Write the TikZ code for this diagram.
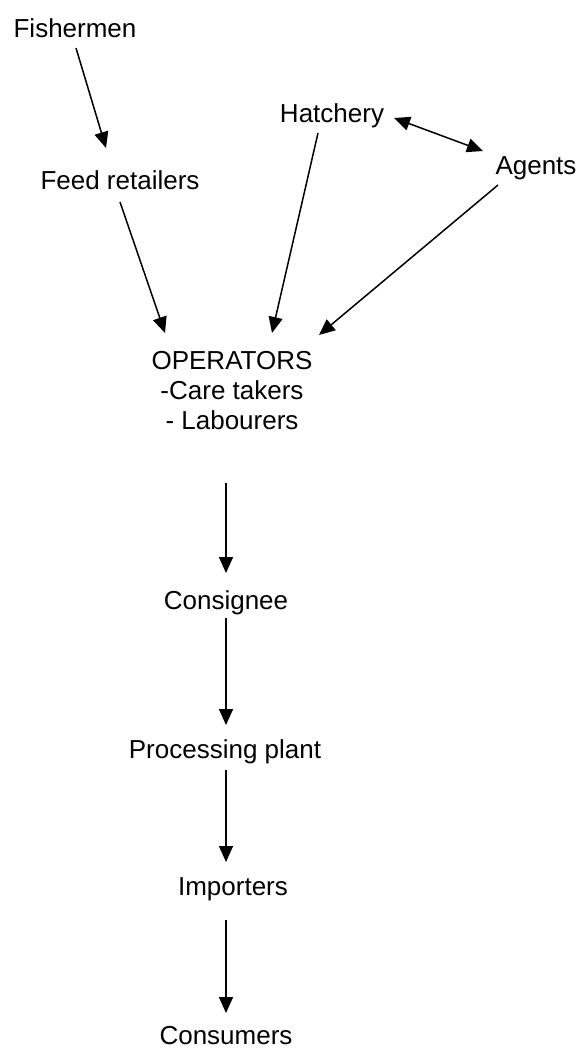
\documentclass[tikz,border=0pt]{standalone}
\usepackage{fontspec}
\setmainfont{Liberation Sans}
\usetikzlibrary{arrows.meta}
\begin{document}
\begin{tikzpicture}[x=1pt,y=-1pt,
  lbl/.style={inner sep=0pt,anchor=base,font=\fontsize{26}{30}\selectfont,align=center},
  flow/.style={line width=1.5pt,-{Triangle[length=16pt,width=14pt]}},
  flow2/.style={line width=1.5pt,{Triangle[length=16pt,width=14pt]}-{Triangle[length=16pt,width=14pt]}}]
\useasboundingbox (0,0) rectangle (579,1050);
\node[lbl] (fish) at (75,37) {Fishermen};
\node[lbl] (feed) at (120,189) {Feed retailers};
\node[lbl] (hatch) at (332,122) {Hatchery};
\node[lbl] (agents) at (536,174) {Agents};
\node[lbl] (ops) at (232,429) {OPERATORS\\-Care takers\\- Labourers};
\node[lbl] (cons) at (226,609) {Consignee};
\node[lbl] (proc) at (225,758) {Processing plant};
\node[lbl] (imp) at (233,895) {Importers};
\node[lbl] (consu) at (226,1044) {Consumers};
% arrow end points
\coordinate (f1) at (76,48);   \coordinate (f2) at (106,148);
\coordinate (r1) at (120,202); \coordinate (r2) at (165,333);
\coordinate (h1) at (318,133); \coordinate (h2) at (272,333);
\coordinate (d1) at (394,118); \coordinate (d2) at (483,151);
\coordinate (a1) at (498,185); \coordinate (a2) at (319,335);
\coordinate (o1) at (226,483); \coordinate (o2) at (226,573);
\coordinate (c1) at (226,618); \coordinate (c2) at (226,725);
\coordinate (p1) at (226,770); \coordinate (p2) at (226,862);
\coordinate (i1) at (226,920); \coordinate (i2) at (226,1013);
\draw[flow] (f1) -- (f2);
\draw[flow] (r1) -- (r2);
\draw[flow] (h1) -- (h2);
\draw[flow2] (d1) -- (d2);
\draw[flow] (a1) -- (a2);
\draw[flow] (o1) -- (o2);
\draw[flow] (c1) -- (c2);
\draw[flow] (p1) -- (p2);
\draw[flow] (i1) -- (i2);
\end{tikzpicture}
\end{document}
